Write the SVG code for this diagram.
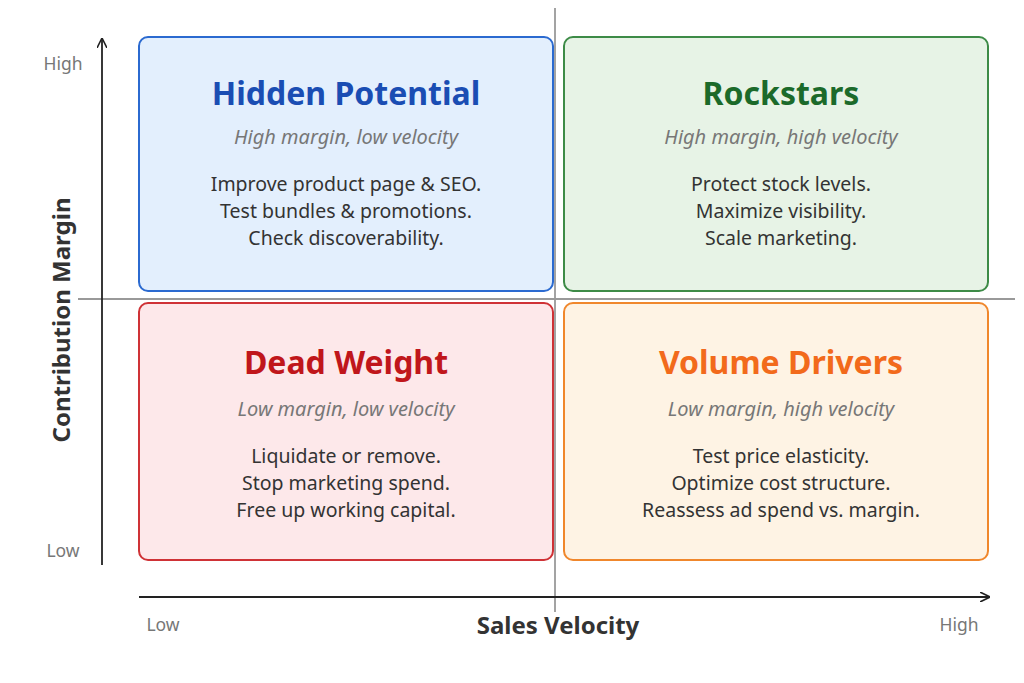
<svg xmlns="http://www.w3.org/2000/svg" width="1024" height="683" viewBox="0 0 1024 683">
<defs>
<marker id="ar" viewBox="0 0 10 10" refX="9" refY="5" markerWidth="10" markerHeight="10" markerUnits="userSpaceOnUse" orient="auto"><path d="M0,0 L10,5 L0,10" fill="none" stroke="#222" stroke-width="1.6"/></marker>
<style>
text{font-family:"Noto Sans","Open Sans",sans-serif;text-anchor:middle}
.t{font-size:32px;font-weight:bold}
.s{font-size:20px;font-style:italic;fill:#777}
.b{font-size:19.5px;fill:#333}
.ax{font-size:17.5px;fill:#777}
.al{font-size:24px;font-weight:bold;fill:#333}
.box{stroke-width:2}
</style>
</defs>
<rect width="1024" height="683" fill="#fff"/>
<g id="connectors" stroke-width="1.8" fill="none">
<line x1="555" y1="8" x2="555" y2="612" stroke="#999"/>
<line x1="78" y1="299" x2="1015" y2="299" stroke="#999"/>
<line x1="102" y1="565" x2="102" y2="39" stroke="#222" marker-end="url(#ar)"/>
<line x1="139" y1="597" x2="989" y2="597" stroke="#222" marker-end="url(#ar)"/>
</g>
<g id="hidden">
<rect class="box" x="139" y="37" width="414" height="254" rx="9" fill="#e3effd" stroke="#2b6ad0"/>
<text class="t" x="346" y="105" fill="#1a4db3">Hidden Potential</text>
<text class="s" x="346" y="144">High margin, low velocity</text>
<text class="b" x="346" y="191">Improve product page &amp; SEO.</text>
<text class="b" x="346" y="218">Test bundles &amp; promotions.</text>
<text class="b" x="346" y="245">Check discoverability.</text>
</g>
<g id="rockstars">
<rect class="box" x="564" y="37" width="424" height="254" rx="9" fill="#e7f3e6" stroke="#3d8b47"/>
<text class="t" x="781" y="105" fill="#1b6a2a">Rockstars</text>
<text class="s" x="781" y="144">High margin, high velocity</text>
<text class="b" x="781" y="191">Protect stock levels.</text>
<text class="b" x="781" y="218">Maximize visibility.</text>
<text class="b" x="781" y="245">Scale marketing.</text>
</g>
<g id="dead">
<rect class="box" x="139" y="303" width="414" height="257" rx="9" fill="#fde8ea" stroke="#cf3236"/>
<text class="t" x="346" y="374" fill="#c0161b">Dead Weight</text>
<text class="s" x="346" y="416">Low margin, low velocity</text>
<text class="b" x="346" y="463">Liquidate or remove.</text>
<text class="b" x="346" y="490">Stop marketing spend.</text>
<text class="b" x="346" y="517">Free up working capital.</text>
</g>
<g id="volume">
<rect class="box" x="564" y="303" width="424" height="257" rx="9" fill="#fef3e4" stroke="#f0872c"/>
<text class="t" x="781" y="374" fill="#f26a1b">Volume Drivers</text>
<text class="s" x="781" y="416">Low margin, high velocity</text>
<text class="b" x="781" y="463">Test price elasticity.</text>
<text class="b" x="781" y="490">Optimize cost structure.</text>
<text class="b" x="781" y="517">Reassess ad spend vs. margin.</text>
</g>
<g id="axes">
<text class="ax" x="63" y="70">High</text>
<text class="ax" x="63" y="557">Low</text>
<text class="ax" x="163" y="631">Low</text>
<text class="ax" x="959" y="631">High</text>
<text class="al" x="558" y="634">Sales Velocity</text>
<text class="al" transform="translate(70,320) rotate(-90)">Contribution Margin</text>
</g>
</svg>
